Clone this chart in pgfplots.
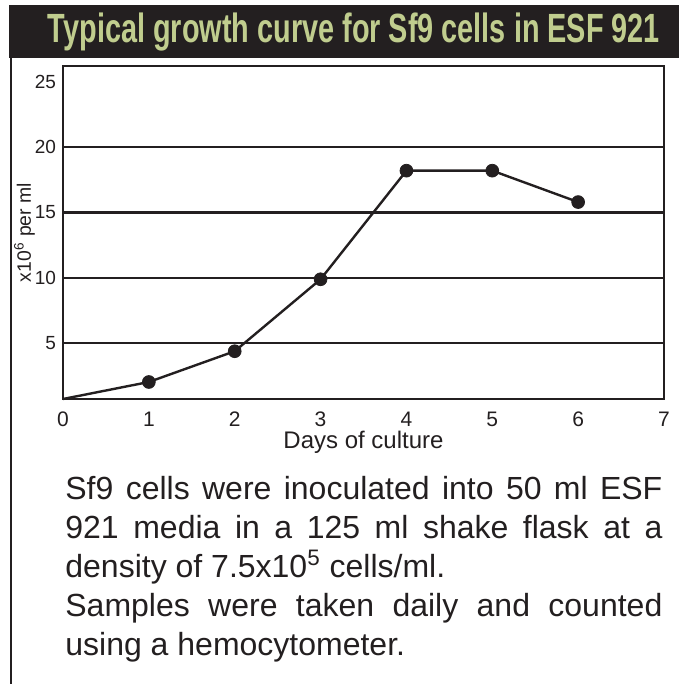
\documentclass[border=0pt]{standalone}
\usepackage{fontspec}
\setmainfont{Liberation Sans}
\usepackage{graphicx}
\usepackage{pgfplots}
\pgfplotsset{compat=1.18}
\definecolor{ink}{HTML}{231F20}
\definecolor{banner}{HTML}{231F20}
\definecolor{titlegreen}{RGB}{192,205,142}

\begin{document}
\begin{tikzpicture}
\path[use as bounding box] (0,0) rectangle (339.5pt,342pt);
\fill[banner] (4.5pt,313pt) rectangle (339.5pt,339.5pt);
\node[anchor=base,inner sep=0,text=titlegreen] at (177pt,320.5pt) {\resizebox{306pt}{14.8pt}{\bfseries Typical growth curve for Sf9 cells in ESF 921}};
\draw[ink,line width=1pt] (5.5pt,313pt) -- (5.5pt,0pt);
\begin{axis}[at={(31.5pt,142.5pt)},anchor=south west,scale only axis,
 width=300.5pt,height=166.5pt,
 xmin=0,xmax=7,ymin=0.75,ymax=26.2,
 xtick={0,1,2,3,4,5,6,7}, ytick={5,10,15,20},
 extra y ticks={25}, extra y tick style={grid=none},
 ymajorgrids, grid style={ink,line width=1.1pt},
 axis line style={ink,line width=1.2pt},
 major tick length=0,
 /pgf/number format/assume math mode=true,
 xticklabel style={font=\fontsize{10.5}{12}\selectfont, text=ink, yshift=-3pt},
 yticklabel style={font=\fontsize{9.5}{11}\selectfont, text=ink},
 xlabel={Days of culture}, ylabel={x10\textsuperscript{6} per ml},
 xlabel style={font=\fontsize{12}{14}\selectfont, text=ink, at={(axis description cs:0.5,0)}, anchor=base, yshift=-25pt},
 ylabel style={font=\fontsize{9.7}{11}\selectfont, text=ink, at={(axis description cs:-0.064,0.5)}, anchor=center},
 clip=false]
\addplot[ink, line width=1.2pt, mark=none] coordinates {(0,0.75)(1,2.05)(2,4.4)(3,9.9)(4,18.2)(5,18.2)(6,15.8)};
\addplot[ink, only marks, mark=*, mark size=3.2pt, mark options={fill=ink,draw=ink}] coordinates {(1,2.05)(2,4.4)(3,9.9)(4,18.2)(5,18.2)(6,15.8)};
\end{axis}
\begin{scope}[every node/.style={anchor=base west,inner sep=0,font=\fontsize{16pt}{20pt}\selectfont,text=ink}]
\node at (32.5pt,92pt) {\makebox[298.5pt][s]{Sf9 cells were inoculated into 50 ml ESF}};
\node at (32.5pt,72.5pt) {\makebox[298.5pt][s]{921 media in a 125 ml shake flask at a}};
\node at (32.5pt,53pt) {density of 7.5x10\textsuperscript{5} cells/ml.};
\node at (32.5pt,33.5pt) {\makebox[298.5pt][s]{Samples were taken daily and counted}};
\node at (32.5pt,14pt) {using a hemocytometer.};
\end{scope}
\end{tikzpicture}
\end{document}
